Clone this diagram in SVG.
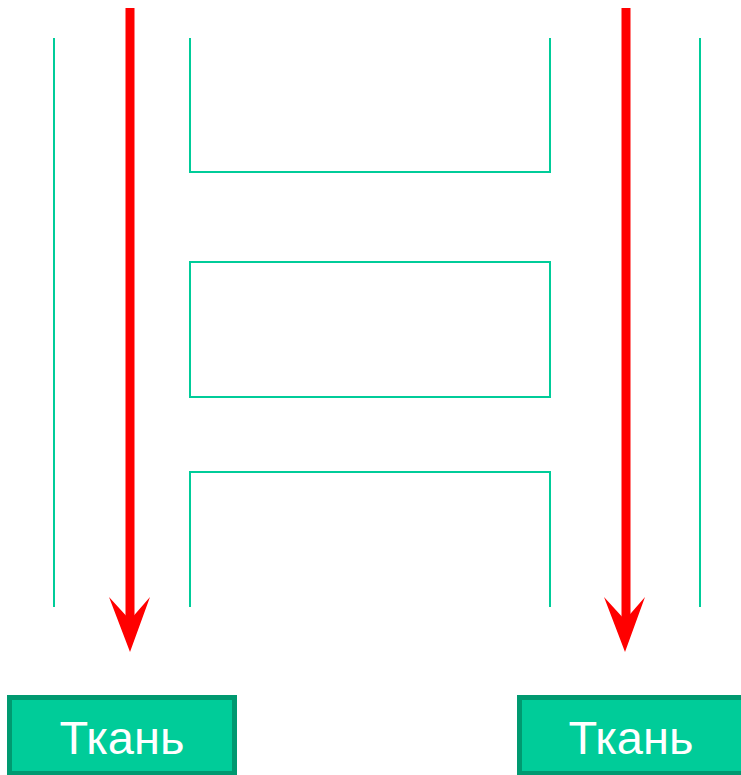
<svg xmlns="http://www.w3.org/2000/svg" width="741" height="775" viewBox="0 0 741 775">
<style>
.wall{fill:none;stroke:#00CC99;stroke-width:2}
.shaft{stroke:#FF0000;stroke-width:9}
.head{fill:#FF0000}
.box{fill:#00CC99;stroke:#009970;stroke-width:5}
.lbl{font-family:"Liberation Sans",Arial,sans-serif;font-size:47px;fill:#FFFFFF;text-anchor:middle}
</style>
<rect width="741" height="775" fill="#FFFFFF"/>
<g id="walls">
<line class="wall" x1="54" y1="38" x2="54" y2="607"/>
<line class="wall" x1="700" y1="38" x2="700" y2="607"/>
<polyline class="wall" points="190,38 190,172 550,172 550,38"/>
<rect class="wall" x="190" y="262" width="360" height="135"/>
<polyline class="wall" points="190,607 190,472 550,472 550,607"/>
</g>
<g id="connectors">
<line class="shaft" x1="130" y1="8" x2="130" y2="620"/>
<polygon class="head" points="109,597 130,652 150,597 130,620"/>
<line class="shaft" x1="626" y1="8" x2="626" y2="620"/>
<polygon class="head" points="604,597 625,652 645,597 625,620"/>
</g>
<g id="node-left">
<rect class="box" x="9.5" y="697.5" width="225" height="76"/>
<text class="lbl" x="122" y="754">Ткань</text>
</g>
<g id="node-right">
<rect class="box" x="519.5" y="697.5" width="225" height="76"/>
<text class="lbl" x="631" y="754">Ткань</text>
</g>
</svg>
